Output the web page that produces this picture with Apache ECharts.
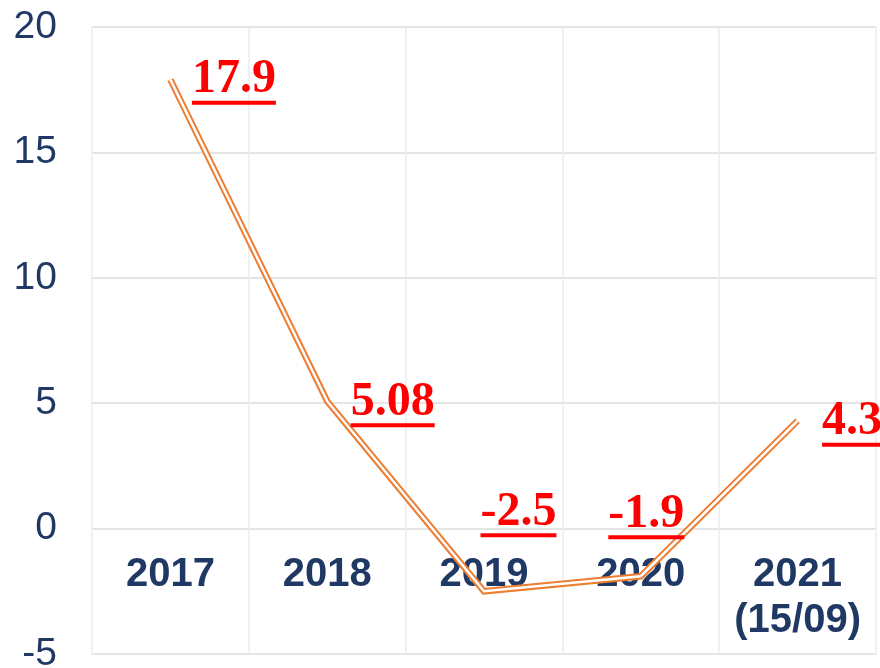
<!DOCTYPE html>
<html>
<head>
<meta charset="utf-8">
<script src="https://cdn.jsdelivr.net/npm/echarts@6/dist/echarts.min.js"></script>
<style>html,body{margin:0;padding:0;background:#fff}#c{width:880px;height:668px}</style>
</head>
<body>
<div id="c"></div>
<script>
const categories = ['2017', '2018', '2019', '2020', '2021\n(15/09)'];
const values = [17.9, 5.08, -2.5, -1.9, 4.3];
const valueLabels = ['17.9', '5.08', '-2.5', '-1.9', '4.3'];
const yTicks = { min: -5, max: 20, interval: 5 };

const labelOffsets = [[21, 3], [23, 4], [-4, -76], [-33, -59], [24, 4]];

const chart = echarts.init(document.getElementById('c'));
const labelData = values.map((v, i) => ({
  value: v,
  label: { offset: labelOffsets[i], formatter: '{v|' + valueLabels[i] + '}\n{u|}' }
}));

chart.setOption({
  animation: false,
  grid: { left: 92, right: 4, top: 27, bottom: 14, containLabel: false, outerBoundsMode: 'none' },
  xAxis: {
    type: 'category',
    data: categories,
    boundaryGap: true,
    axisLine: { show: false },
    axisTick: { show: false },
    axisLabel: {
      interval: 0, hideOverlap: false,
      color: '#203864', fontSize: 40, fontWeight: 'bold',
      fontFamily: 'Liberation Sans, Arial, sans-serif',
      lineHeight: 46, margin: -102
    },
    splitLine: { show: true, lineStyle: { color: '#ececec', width: 1.5 } }
  },
  yAxis: {
    type: 'value',
    min: yTicks.min, max: yTicks.max, interval: yTicks.interval,
    axisLine: { show: false },
    axisTick: { show: false },
    axisLabel: {
      color: '#203864', fontSize: 39,
      fontFamily: 'Liberation Sans, Arial, sans-serif', margin: 35
    },
    splitLine: { show: true, lineStyle: { color: '#dcdcdc', width: 1.5 } }
  },
  series: [
    {
      type: 'line', data: values, symbol: 'none', silent: true,
      lineStyle: { color: '#ED7D31', width: 6.5, join: 'miter' }, z: 2
    },
    {
      type: 'line', data: labelData, symbol: 'circle', symbolSize: 1,
      itemStyle: { color: 'rgba(0,0,0,0)' }, silent: true, z: 3,
      lineStyle: { color: '#ffffff', width: 2.5, join: 'miter' },
      label: {
        show: true, position: 'right', distance: 0,
        align: 'left', verticalAlign: 'middle',
        rich: {
          v: { fontSize: 48, fontWeight: 'bold', color: '#ff0000',
               fontFamily: 'Liberation Serif, Times New Roman, serif', lineHeight: 40 },
          u: { width: '100%', height: 4, backgroundColor: '#ff0000', lineHeight: 6 }
        }
      }
    }
  ]
});
</script>
</body>
</html>
